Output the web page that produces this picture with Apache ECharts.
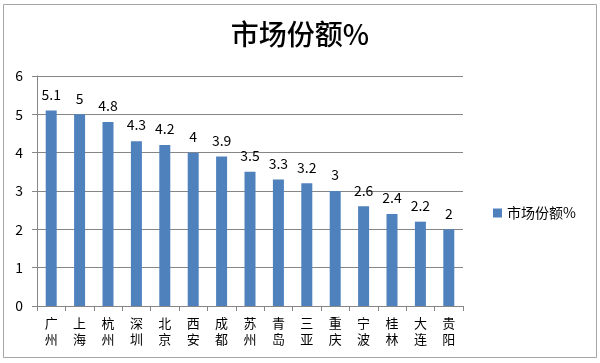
<!DOCTYPE html>
<html><head><meta charset="utf-8">
<script src="https://cdn.jsdelivr.net/npm/echarts@6/dist/echarts.min.js"></script>
<style>html,body{margin:0;padding:0;background:#fff}#c{width:600px;height:363px}</style>
</head><body><div id="c"></div>
<script>
const categories = ['广州','上海','杭州','深圳','北京','西安','成都','苏州','青岛','三亚','重庆','宁波','桂林','大连','贵阳'];
const values = [5.1, 5, 4.8, 4.3, 4.2, 4, 3.9, 3.5, 3.3, 3.2, 3, 2.6, 2.4, 2.2, 2];
const seriesName = '市场份额%';
const titleText = '市场份额%';

const chart = echarts.init(document.getElementById('c'));
const font = '"Noto Sans CJK SC", "Noto Sans", sans-serif';
chart.setOption({
  animation: false,
  textStyle: { fontFamily: font },
  graphic: [{ type: 'rect', shape: { x: 3.5, y: 4.5, width: 593, height: 353 }, style: { fill: 'none', stroke: '#a6a6a6', lineWidth: 1 }, silent: true }],
  title: { text: titleText, left: 'center', top: 15, textStyle: { fontSize: 28, fontWeight: 500, color: '#000', fontFamily: font } },
  legend: { data: [seriesName], left: 488, top: 201, itemWidth: 9, itemHeight: 9, itemGap: 5, icon: 'rect', textStyle: { fontSize: 14, color: '#000', fontFamily: font } },
  grid: { left: 37, right: 137, top: 76, bottom: 57, containLabel: false },
  xAxis: {
    type: 'category', data: categories,
    axisLine: { lineStyle: { color: '#868686' } },
    axisTick: { show: true, length: 5, lineStyle: { color: '#868686' } },
    axisLabel: { interval: 0, fontSize: 13, color: '#000', lineHeight: 16, margin: 9,
      formatter: v => v.split('').join('\n') }
  },
  yAxis: {
    type: 'value', min: 0, max: 6, interval: 1,
    axisLine: { show: true, lineStyle: { color: '#868686' } },
    axisTick: { show: true, length: 5, lineStyle: { color: '#868686' } },
    splitLine: { lineStyle: { color: '#868686' } },
    axisLabel: { fontSize: 14, color: '#000', margin: 14 }
  },
  series: [{
    name: seriesName, type: 'bar', data: values, barWidth: 11,
    itemStyle: { color: '#4F81BD' },
    label: { show: true, position: 'top', fontSize: 14, color: '#000', distance: 9 }
  }]
});
</script></body></html>
